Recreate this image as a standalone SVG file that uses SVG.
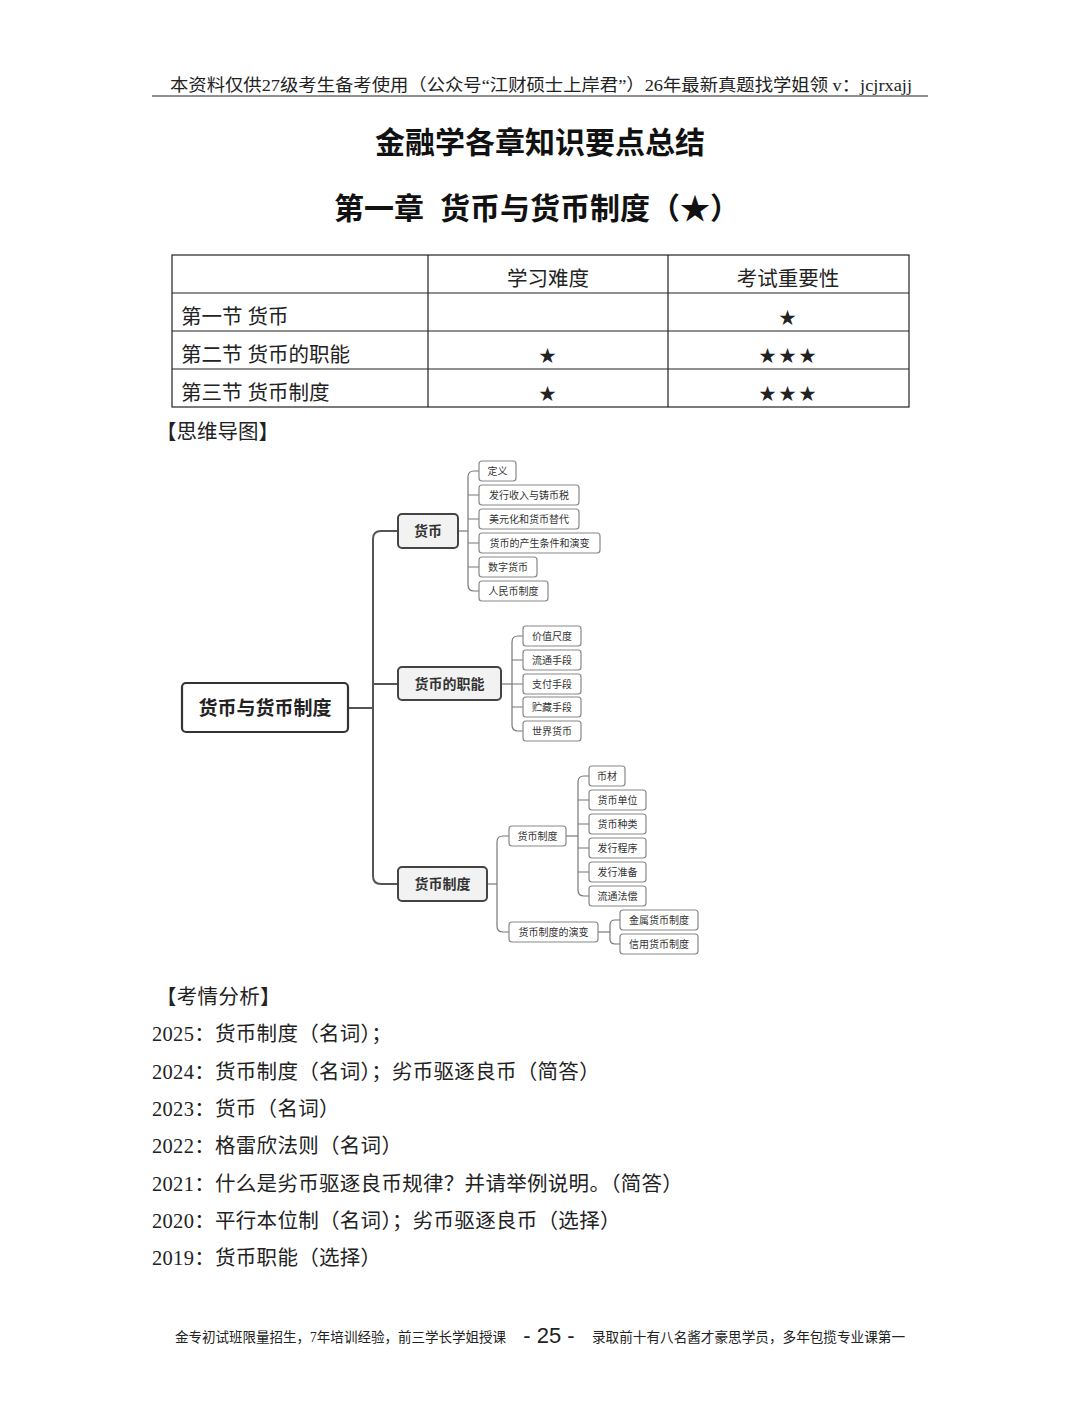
<svg xmlns="http://www.w3.org/2000/svg" width="1080" height="1426" viewBox="0 0 1080 1426">
<style>
.s{font-family:"Liberation Serif","Noto Sans CJK SC",serif;fill:#222}
.hd{font-size:17px}
.t1{font-size:30px;font-weight:bold;font-family:"Noto Sans CJK SC",sans-serif;fill:#111}
.tb{font-size:20.5px}
.tx{font-size:20.5px;letter-spacing:0.3px}
.st{font-size:17px;letter-spacing:3px}
.grid{stroke:#222;stroke-width:1.2;fill:none}
.m{font-family:"Noto Sans CJK SC",sans-serif;fill:#222;text-anchor:middle}
.root rect{fill:#fff;stroke:#333;stroke-width:2.2}
.root text{font-size:19px;font-weight:bold}
.br rect{fill:#f2f2f2;stroke:#444;stroke-width:2}
.br text{font-size:14px;font-weight:bold;fill:#333}
.lf rect{fill:#fff;stroke:#888;stroke-width:1.2}
.lf text{font-size:10px;fill:#333}
.conn path{fill:none;stroke:#555;stroke-width:2}
.conn .thin{stroke:#777;stroke-width:1.2}
.ft{font-size:14px}
</style>
<rect width="1080" height="1426" fill="#fff"/>
<text class="s hd" x="170" y="91" textLength="742" lengthAdjust="spacingAndGlyphs">本资料仅供27级考生备考使用（公众号“江财硕士上岸君”）26年最新真题找学姐领 v：jcjrxajj</text>
<line x1="152" y1="96" x2="928" y2="96" stroke="#222" stroke-width="1.2"/>
<text class="t1" x="540" y="153" text-anchor="middle">金融学各章知识要点总结</text>
<text class="t1" y="219"><tspan x="334">第一章</tspan><tspan x="440">货币与货币制度（★）</tspan></text>
<g id="table">
<rect class="grid" x="172" y="255" width="737" height="152"/>
<path class="grid" d="M172,293H909M172,331H909M172,369H909M428,255V407M668,255V407"/>
<text class="s tb" x="548" y="286" text-anchor="middle">学习难度</text>
<text class="s tb" x="788" y="286" text-anchor="middle">考试重要性</text>
<text class="s tb" x="181" y="324">第一节  货币</text>
<text class="s tb" x="181" y="362">第二节  货币的职能</text>
<text class="s tb" x="181" y="400">第三节  货币制度</text>
<text class="s st" x="789" y="324" text-anchor="middle">★</text>
<text class="s st" x="549" y="362" text-anchor="middle">★</text>
<text class="s st" x="789" y="362" text-anchor="middle">★★★</text>
<text class="s st" x="549" y="400" text-anchor="middle">★</text>
<text class="s st" x="789" y="400" text-anchor="middle">★★★</text>
</g>
<text class="s tb" x="156" y="439">【思维导图】</text>
<g class="conn" id="connectors">
<path d="M348,708H373"/>
<path d="M398,531H381Q373,531 373,539V876Q373,884 381,884H398"/>
<path d="M373,684H398"/>
<path class="thin" d="M458,531H468"/>
<path class="thin" d="M479,471H474Q468,471 468,477V585Q468,591 474,591H479M468,495H479M468,519H479M468,543H479M468,567H479"/>
<path class="thin" d="M501,684H512"/>
<path class="thin" d="M523,636H518Q512,636 512,642V725Q512,731 518,731H523M512,660H523M512,684H523M512,707H523"/>
<path class="thin" d="M487,884H497"/>
<path class="thin" d="M509,836H503Q497,836 497,842V926Q497,932 503,932H509"/>
<path class="thin" d="M566,836H578"/>
<path class="thin" d="M589,776H584Q578,776 578,782V890Q578,896 584,896H589M578,800H589M578,824H589M578,848H589M578,872H589"/>
<path class="thin" d="M598,932H610"/>
<path class="thin" d="M620,920H615Q610,920 610,925V939Q610,944 615,944H620"/>
</g>
<g id="root" class="root"><rect x="182" y="683" width="166" height="49" rx="4"/><text class="m" x="265" y="715">货币与货币制度</text></g>
<g id="b1" class="br"><rect x="398" y="514" width="60" height="34" rx="4"/><text class="m" x="428" y="536">货币</text></g>
<g id="b2" class="br"><rect x="398" y="667" width="103" height="33" rx="4"/><text class="m" x="449.5" y="689">货币的职能</text></g>
<g id="b3" class="br"><rect x="398" y="867" width="89" height="34" rx="4"/><text class="m" x="442.5" y="889">货币制度</text></g>
<g id="l1" class="lf"><rect x="479" y="461" width="37" height="20" rx="3"/><text class="m" x="497.5" y="475">定义</text></g>
<g id="l2" class="lf"><rect x="479" y="485" width="100" height="20" rx="3"/><text class="m" x="529" y="499">发行收入与铸币税</text></g>
<g id="l3" class="lf"><rect x="479" y="509" width="100" height="20" rx="3"/><text class="m" x="529" y="523">美元化和货币替代</text></g>
<g id="l4" class="lf"><rect x="479" y="533" width="121" height="20" rx="3"/><text class="m" x="539.5" y="547">货币的产生条件和演变</text></g>
<g id="l5" class="lf"><rect x="479" y="557" width="58" height="20" rx="3"/><text class="m" x="508" y="571">数字货币</text></g>
<g id="l6" class="lf"><rect x="479" y="581" width="69" height="20" rx="3"/><text class="m" x="513.5" y="595">人民币制度</text></g>
<g id="f1" class="lf"><rect x="523" y="626" width="58" height="20" rx="3"/><text class="m" x="552" y="640">价值尺度</text></g>
<g id="f2" class="lf"><rect x="523" y="650" width="58" height="20" rx="3"/><text class="m" x="552" y="664">流通手段</text></g>
<g id="f3" class="lf"><rect x="523" y="674" width="58" height="20" rx="3"/><text class="m" x="552" y="688">支付手段</text></g>
<g id="f4" class="lf"><rect x="523" y="697" width="58" height="20" rx="3"/><text class="m" x="552" y="711">贮藏手段</text></g>
<g id="f5" class="lf"><rect x="523" y="721" width="58" height="20" rx="3"/><text class="m" x="552" y="735">世界货币</text></g>
<g id="s1" class="lf"><rect x="509" y="826" width="57" height="20" rx="3"/><text class="m" x="537.5" y="840">货币制度</text></g>
<g id="s2" class="lf"><rect x="509" y="922" width="89" height="20" rx="3"/><text class="m" x="553.5" y="936">货币制度的演变</text></g>
<g id="c1" class="lf"><rect x="589" y="766" width="36" height="20" rx="3"/><text class="m" x="607" y="780">币材</text></g>
<g id="c2" class="lf"><rect x="589" y="790" width="57" height="20" rx="3"/><text class="m" x="617.5" y="804">货币单位</text></g>
<g id="c3" class="lf"><rect x="589" y="814" width="57" height="20" rx="3"/><text class="m" x="617.5" y="828">货币种类</text></g>
<g id="c4" class="lf"><rect x="589" y="838" width="57" height="20" rx="3"/><text class="m" x="617.5" y="852">发行程序</text></g>
<g id="c5" class="lf"><rect x="589" y="862" width="57" height="20" rx="3"/><text class="m" x="617.5" y="876">发行准备</text></g>
<g id="c6" class="lf"><rect x="589" y="886" width="57" height="20" rx="3"/><text class="m" x="617.5" y="900">流通法偿</text></g>
<g id="e1" class="lf"><rect x="620" y="910" width="78" height="20" rx="3"/><text class="m" x="659" y="924">金属货币制度</text></g>
<g id="e2" class="lf"><rect x="620" y="934" width="78" height="20" rx="3"/><text class="m" x="659" y="948">信用货币制度</text></g>
<text class="s tx" x="156" y="1004">【考情分析】</text>
<text class="s tx" x="152" y="1041">2025：货币制度（名词）；</text>
<text class="s tx" x="152" y="1079">2024：货币制度（名词）；劣币驱逐良币（简答）</text>
<text class="s tx" x="152" y="1116">2023：货币（名词）</text>
<text class="s tx" x="152" y="1153">2022：格雷欣法则（名词）</text>
<text class="s tx" x="152" y="1191">2021：什么是劣币驱逐良币规律？并请举例说明。（简答）</text>
<text class="s tx" x="152" y="1228">2020：平行本位制（名词）；劣币驱逐良币（选择）</text>
<text class="s tx" x="152" y="1265">2019：货币职能（选择）</text>
<text class="s ft" x="175" y="1342" textLength="331" lengthAdjust="spacingAndGlyphs">金专初试班限量招生，7年培训经验，前三学长学姐授课</text>
<text x="549" y="1343" text-anchor="middle" font-family="Liberation Sans,sans-serif" font-size="22" fill="#222">- 25 -</text>
<text class="s ft" x="592" y="1342" textLength="313" lengthAdjust="spacingAndGlyphs">录取前十有八名酱才豪思学员，多年包揽专业课第一</text>
</svg>
